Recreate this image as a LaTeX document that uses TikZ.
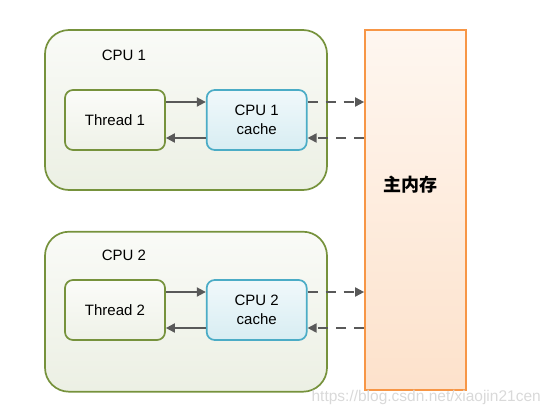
\documentclass[tikz,border=0pt]{standalone}
\usepackage{fontspec}
\setmainfont{Liberation Sans}
\newfontfamily\cjk{Noto Sans CJK SC}
\usepackage{tikz}
\usetikzlibrary{arrows.meta}
\usetikzlibrary{positioning}

\definecolor{olive}{HTML}{76923C}
\definecolor{cachebd}{HTML}{4BACC6}
\definecolor{membd}{HTML}{F79646}
\definecolor{arrgray}{HTML}{595959}

\begin{document}
\begin{tikzpicture}[x=1pt,y=1pt,>={Triangle[length=9pt,width=9pt]},
  font=\fontsize{15}{18}\selectfont,
  cpu box/.style={draw=olive,line width=1.7pt,rounded corners=24pt,top color=olive!4,bottom color=olive!14,
    minimum width=282pt,minimum height=160pt,inner sep=0pt},
  thread box/.style={draw=olive,line width=1.7pt,rounded corners=8pt,top color=olive!3,bottom color=olive!12,
    minimum width=100pt,minimum height=60pt,inner sep=0pt},
  cache box/.style={draw=cachebd,line width=1.7pt,rounded corners=8pt,top color=cachebd!8,bottom color=cachebd!22,
    minimum width=100pt,minimum height=60pt,inner sep=0pt,align=center,font=\fontsize{15}{19}\selectfont},
  mem box/.style={draw=membd,line width=1.7pt,top color=membd!8,bottom color=membd!28,
    minimum width=101pt,minimum height=360pt,inner sep=0pt},
  solid arr/.style={->,draw=arrgray,line width=1.8pt},
  dash arr/.style={->,draw=arrgray,line width=1.8pt,dash pattern=on 10pt off 8pt}]

  \useasboundingbox (0,0) rectangle (550,-413);

  % main memory
  \node[mem box] (mem) at (415.5,-210) {};
  \node (memlabel) at (410,-185) {\cjk\bfseries\fontsize{18}{20}\selectfont 主内存};

  % CPU 1
  \node[cpu box] (cpu1) at (186,-110) {};
  \node (cpu1label) at (124,-55) {CPU 1};
  \node[thread box] (thread1) at (115,-120) {Thread 1};
  \node[cache box] (cache1) [right=40pt of thread1] {CPU 1\\cache};

  % CPU 2
  \node[cpu box] (cpu2) [below=40pt of cpu1] {};
  \node (cpu2label) at (124,-255) {CPU 2};
  \node[thread box] (thread2) at (115,-310) {Thread 2};
  \node[cache box] (cache2) [right=40pt of thread2] {CPU 2\\cache};

  \foreach \n in {1,2} {
    \coordinate (t\n o) at ([yshift=18pt]thread\n.east);
    \coordinate (t\n i) at ([yshift=-18pt]thread\n.east);
    \coordinate (c\n o) at ([yshift=18pt]cache\n.east);
    \coordinate (c\n i) at ([yshift=-18pt]cache\n.east);
    \draw[solid arr] (t\n o) -- (t\n o -| cache\n.west);
    \draw[solid arr] (t\n i -| cache\n.west) -- (t\n i);
    \draw[dash arr] (c\n o) -- (c\n o -| mem.west);
    \draw[dash arr] (c\n i -| mem.west) -- (c\n i);
  }

  \node[text=black!15,font=\fontsize{15.5}{18}\selectfont,anchor=east,inner sep=0pt] (mark) at (541,-397) {https://blog.csdn.net/xiaojin21cen};
\end{tikzpicture}
\end{document}
